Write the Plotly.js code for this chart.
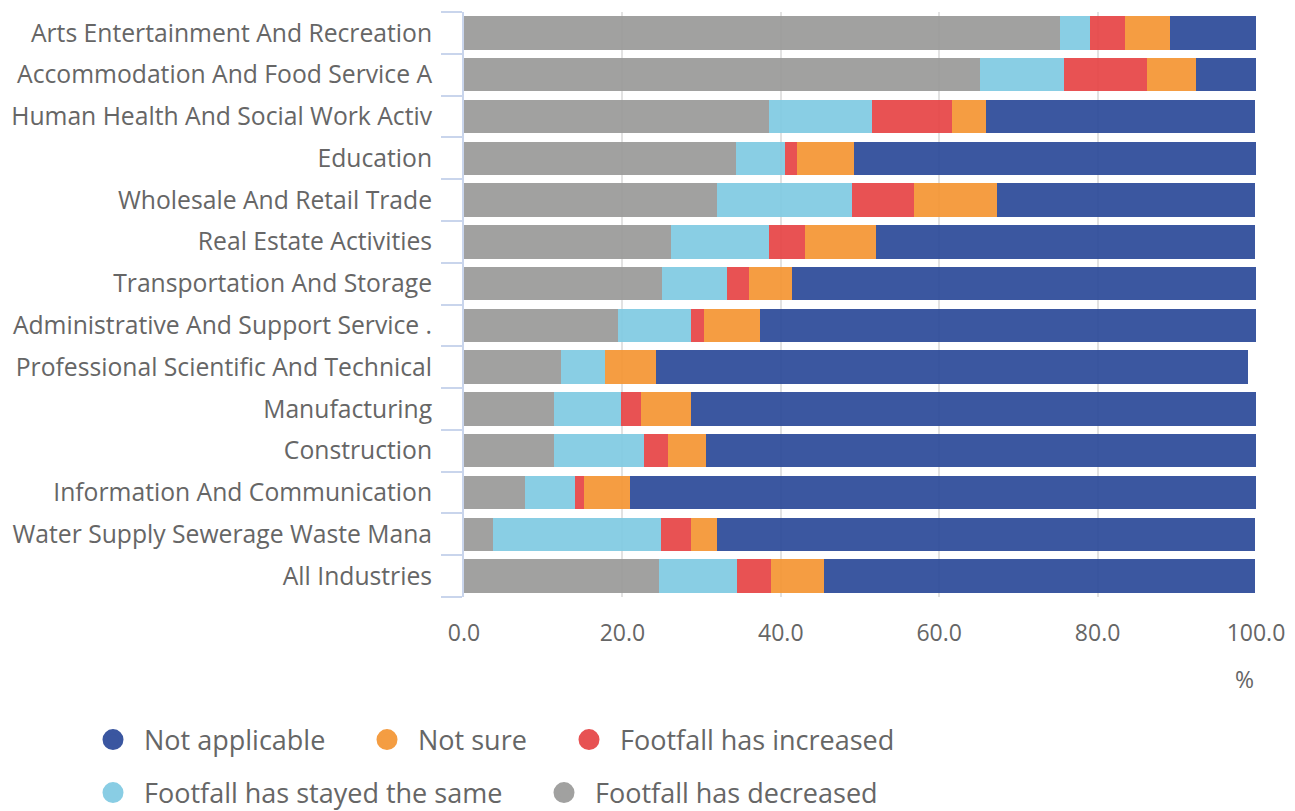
<!DOCTYPE html>
<html>
<head>
<meta charset="utf-8">
<script src="https://cdn.plot.ly/plotly-3.0.1.min.js"></script>
<style>html,body{margin:0;padding:0;background:#fff;}#chart{width:1295px;height:811px;}</style>
</head>
<body>
<div id="chart"></div>
<script>
const categories = [
  "Arts Entertainment And Recreation",
  "Accommodation And Food Service Activities",
  "Human Health And Social Work Activities",
  "Education",
  "Wholesale And Retail Trade",
  "Real Estate Activities",
  "Transportation And Storage",
  "Administrative And Support Service Activities",
  "Professional Scientific And Technical Activities",
  "Manufacturing",
  "Construction",
  "Information And Communication",
  "Water Supply Sewerage Waste Management And Remediation Activities",
  "All Industries"
];
const tickLabels = [
  "Arts Entertainment And Recreation",
  "Accommodation And Food Service A",
  "Human Health And Social Work Activ",
  "Education",
  "Wholesale And Retail Trade",
  "Real Estate Activities",
  "Transportation And Storage",
  "Administrative And Support Service .",
  "Professional Scientific And Technical",
  "Manufacturing",
  "Construction",
  "Information And Communication",
  "Water Supply Sewerage Waste Mana",
  "All Industries"
];
const footfallDecreased = [75.3, 65.2, 38.5, 34.3, 32.0, 26.1, 25.0, 19.5, 12.2, 11.4, 11.4, 7.7, 3.7, 24.6];
const footfallSame      = [3.7, 10.5, 13.0, 6.2, 17.0, 12.4, 8.2, 9.1, 5.6, 8.4, 11.3, 6.3, 21.2, 9.9];
const footfallIncreased = [4.5, 10.5, 10.1, 1.5, 7.8, 4.5, 2.8, 1.7, 0.0, 2.5, 3.1, 1.1, 3.7, 4.2];
const notSure           = [5.7, 6.2, 4.3, 7.3, 10.5, 9.0, 5.4, 7.1, 6.5, 6.3, 4.8, 5.9, 3.4, 6.8];
const notApplicable     = [10.8, 7.7, 34.0, 50.7, 32.6, 47.9, 58.6, 62.6, 74.7, 71.4, 69.4, 79.0, 67.9, 54.4];

const seriesNames = ["Footfall has decreased", "Footfall has stayed the same", "Footfall has increased", "Not sure", "Not applicable"];
const seriesValues = [footfallDecreased, footfallSame, footfallIncreased, notSure, notApplicable];
const seriesColors = ["rgb(154,154,153)", "rgb(128,202,226)", "rgb(230,69,70)", "rgb(244,150,52)", "rgb(44,74,153)"];

const traces = [];
seriesNames.forEach((name, i) => {
  traces.push({
    type: "bar", orientation: "h", name: name,
    y: categories, x: seriesValues[i],
    marker: {color: seriesColors[i], opacity: 0.93, line: {width: 0}},
    showlegend: false, hoverinfo: "x+name"
  });
});

// legend: one Plotly legend per entry, placed like the reference
const legendOrder = [4, 3, 2, 1, 0];
const legendIds = ["legend", "legend2", "legend3", "legend4", "legend5"];
const legendX = [82, 356, 558, 82, 533];
const legendY = [740, 740, 740, 793, 793];
legendOrder.forEach((idx, k) => {
  traces.push({
    type: "scatter", mode: "markers", name: seriesNames[idx],
    x: [null], y: [null],
    marker: {color: seriesColors[idx], symbol: "circle", size: 16, opacity: 0.93,
             line: {color: seriesColors[idx], width: 5}},
    showlegend: true, legend: legendIds[k], hoverinfo: "skip"
  });
});

const W = 1295, H = 811;
const legendFont = {family: "Open Sans", size: 27, color: "#666"};
const layout = {
  width: W, height: H,
  margin: {l: 464, r: 39, t: 12, b: 214, autoexpand: false},
  barmode: "stack", bargap: 0.2,
  paper_bgcolor: "#fff", plot_bgcolor: "#fff",
  font: {family: "Open Sans", color: "#666"},
  xaxis: {
    range: [0, 100], dtick: 20, tick0: 0, tickformat: ".1f",
    showgrid: true, gridcolor: "#e2e2e2", gridwidth: 2,
    zeroline: false, showline: false, ticks: "",
    ticklabelstandoff: 20,
    tickfont: {family: "Open Sans", size: 23, color: "#666"}
  },
  yaxis: {
    type: "category", autorange: "reversed",
    tickmode: "array", tickvals: categories, ticktext: tickLabels,
    tickson: "boundaries", ticks: "outside", ticklen: 21, tickwidth: 2, tickcolor: "#c9d5ec",
    showline: true, linecolor: "#c9d5ec", linewidth: 2,
    showgrid: false, ticklabelstandoff: 25,
    tickfont: {family: "Open Sans", size: 24.7, color: "#666"}
  },
  annotations: [{
    text: "%", xref: "paper", yref: "paper", x: 0.985, y: -0.14,
    xanchor: "center", yanchor: "middle", showarrow: false,
    font: {family: "Open Sans", size: 23, color: "#666"}
  }]
};
legendIds.forEach((id, k) => {
  layout[id] = {
    orientation: "h", xref: "container", yref: "container",
    x: legendX[k] / W, xanchor: "left", y: 1 - legendY[k] / H, yanchor: "middle",
    font: legendFont, itemsizing: "trace", itemwidth: 52, bgcolor: "rgba(0,0,0,0)"
  };
});

Plotly.newPlot("chart", traces, layout, {displayModeBar: false, staticPlot: true});
</script>
</body>
</html>
